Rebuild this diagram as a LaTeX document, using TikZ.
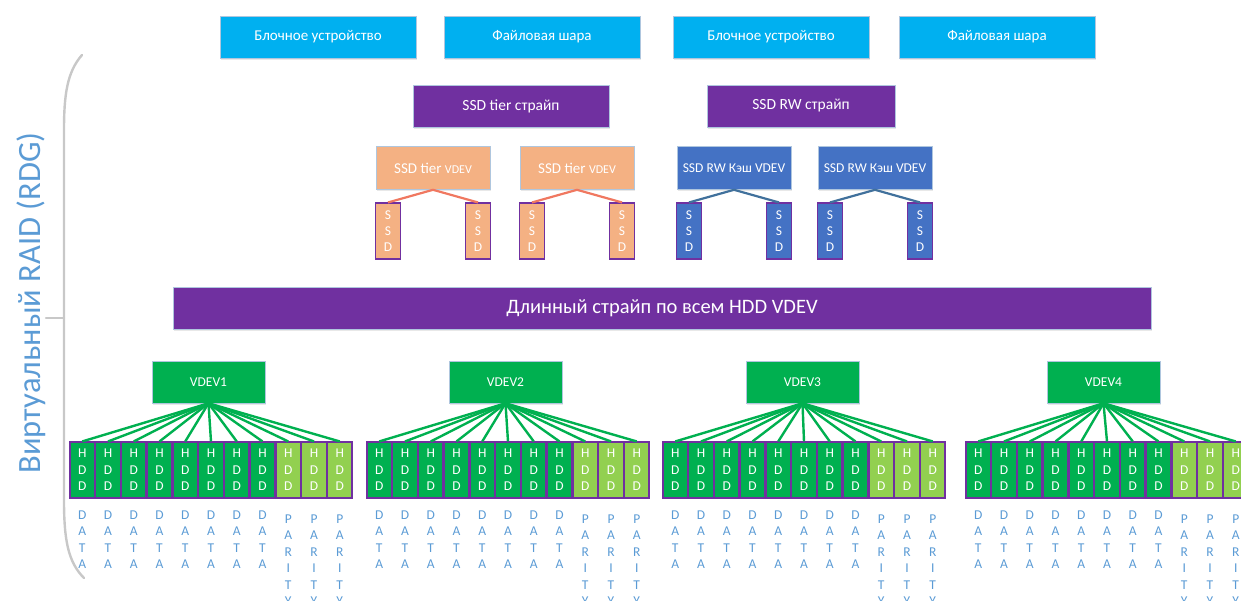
\documentclass[tikz,border=0pt]{standalone}
\usepackage{fontspec}
\setmainfont{Carlito}
\usetikzlibrary{shadows}

\definecolor{celeste}{HTML}{00B0F0}
\definecolor{morado}{HTML}{7030A0}
\definecolor{salmon}{HTML}{F4B183}
\definecolor{azulrw}{HTML}{4472C4}
\definecolor{verde}{HTML}{00B050}
\definecolor{verdecl}{HTML}{92D050}
\definecolor{rotulo}{HTML}{5B9BD5}
\definecolor{coral}{HTML}{F07860}
\definecolor{azulosc}{HTML}{41719C}
\definecolor{borde}{HTML}{AFC6DE}
\definecolor{gris}{HTML}{C8C8C8}

\tikzset{
  caja/.style={draw=borde, line width=0.6pt, inner sep=0pt, text=white,
    minimum height=42pt,
    drop shadow={opacity=0.18, shadow xshift=1pt, shadow yshift=-1.5pt}},
  superior/.style={caja, fill=celeste, minimum width=196pt,
    font=\fontsize{15}{18}\selectfont},
  franja/.style={caja, fill=morado, font=\fontsize{15.5}{18}\selectfont},
  tierbox/.style={caja, fill=salmon, minimum width=114pt, minimum height=43pt},
  rwbox/.style={caja, fill=azulrw, minimum width=114pt, minimum height=43pt,
    font=\fontsize{13.5}{16}\selectfont},
  vdevbox/.style={caja, fill=verde, minimum width=113pt,
    font=\fontsize{13.5}{16}\selectfont},
  disco/.style={draw=morado, line width=1.1pt, inner sep=0pt, text=white,
    minimum width=24.5pt, minimum height=56pt, align=center},
  ssdt/.style={disco, fill=salmon, font=\fontsize{13.5}{16}\selectfont},
  ssdr/.style={disco, fill=azulrw, font=\fontsize{13.5}{16}\selectfont},
  hddd/.style={disco, fill=verde, font=\fontsize{13.5}{16.5}\selectfont},
  hddp/.style={disco, fill=verdecl, font=\fontsize{13.5}{16.5}\selectfont},
  lbl/.style={text=rotulo, inner sep=0pt, align=center, anchor=north,
    font=\fontsize{13.5}{16.5}\selectfont},
  enlace/.style={verde, line width=2.4pt},
  tlink/.style={coral, line width=2.2pt},
  rlink/.style={azulosc, line width=2.2pt},
  llave/.style={gris, line width=2.4pt, line cap=round}
}

\begin{document}
\begin{tikzpicture}[x=1pt, y=-1pt]
        \useasboundingbox (0,0) rectangle (1241,600);

        % Paso 1: Cajas superiores (dispositivos y shares)
        \node[superior] (B1) at (318,37) {Блочное устройство};
        \node[superior] (F1) at (542,37) {Файловая шара};
        \node[superior] (B2) at (771,37) {Блочное устройство};
        \node[superior] (F2) at (997,37) {Файловая шара};

        % Paso 2: Franjas SSD
        \node[franja, minimum width=196pt] (T) at (511,106) {SSD tier страйп};
        \node[franja, minimum width=188pt] (R) at (801,106) {SSD RW страйп};

        % Paso 3: VDEV de SSD
        \node[tierbox] (V1) at (433,168)
            {\fontsize{15}{17}\selectfont SSD tier \fontsize{12}{14}\selectfont VDEV};
        \node[tierbox] (V2) at (577,168)
            {\fontsize{15}{17}\selectfont SSD tier \fontsize{12}{14}\selectfont VDEV};
        \node[rwbox] (W1) at (734,168) {SSD RW Кэш VDEV};
        \node[rwbox] (W2) at (875,168) {SSD RW Кэш VDEV};

        % Paso 4: Discos SSD, dos por cada VDEV
        \foreach \v/\x in {V1/433,V2/577} {
            \node[ssdt] (\v-a) at (\x-45,231) {S\\S\\D};
            \node[ssdt] (\v-b) at (\x+45,231) {S\\S\\D};
            \draw[tlink] (\v.south) -- (\v-a.north);
            \draw[tlink] (\v.south) -- (\v-b.north);
        }
        \foreach \v/\x in {W1/734,W2/875} {
            \node[ssdr] (\v-a) at (\x-45,231) {S\\S\\D};
            \node[ssdr] (\v-b) at (\x+45,231) {S\\S\\D};
            \draw[rlink] (\v.south) -- (\v-a.north);
            \draw[rlink] (\v.south) -- (\v-b.north);
        }

        % Paso 5: Franja larga sobre todos los HDD VDEV
        \node[franja, minimum width=978pt, font=\fontsize{20.5}{24}\selectfont]
            (L) at (662,308) {Длинный страйп по всем HDD VDEV};

        % Paso 6: Grupos de HDD (8 DATA + 3 PARITY) con su VDEV
        \foreach \g/\s/\c in {1/70/208.5,2/367/505.5,3/663/802.5,4/966/1103.5} {
            \node[vdevbox] (VD\g) at (\c,382) {VDEV\g};
            \foreach \i in {1,...,8} {
                \node[hddd] (H\g-\i) at ({\s+12.25+(\i-1)*25.75},470) {H\\D\\D};
                \node[lbl] (D\g-\i) at ([yshift=-12pt]H\g-\i.south) {D\\A\\T\\A};
            }
            \foreach \i in {9,10,11} {
                \node[hddp] (H\g-\i) at ({\s+12.25+(\i-1)*25.75},470) {H\\D\\D};
                \node[lbl] (D\g-\i) at ([yshift=-16pt]H\g-\i.south) {P\\A\\R\\I\\T\\Y};
            }
            \foreach \i in {1,...,11}
                \draw[enlace] (VD\g.south) -- (H\g-\i.north);
        }

        % Paso 7: Llave y rótulo del RAID virtual
        \draw[llave] (82,55) .. controls (67,72) and (64,95) .. (64,130)
            -- (64,500) .. controls (64,540) and (68,562) .. (84,578);
        \draw[llave] (64,318) -- (46,318);
        \node[text=rotulo, rotate=90, inner sep=0pt,
            font=\fontsize{32.5}{38}\selectfont] (RDG) at (31,303)
            {Виртуальный RAID (RDG)};
    \end{tikzpicture}
\end{document}
